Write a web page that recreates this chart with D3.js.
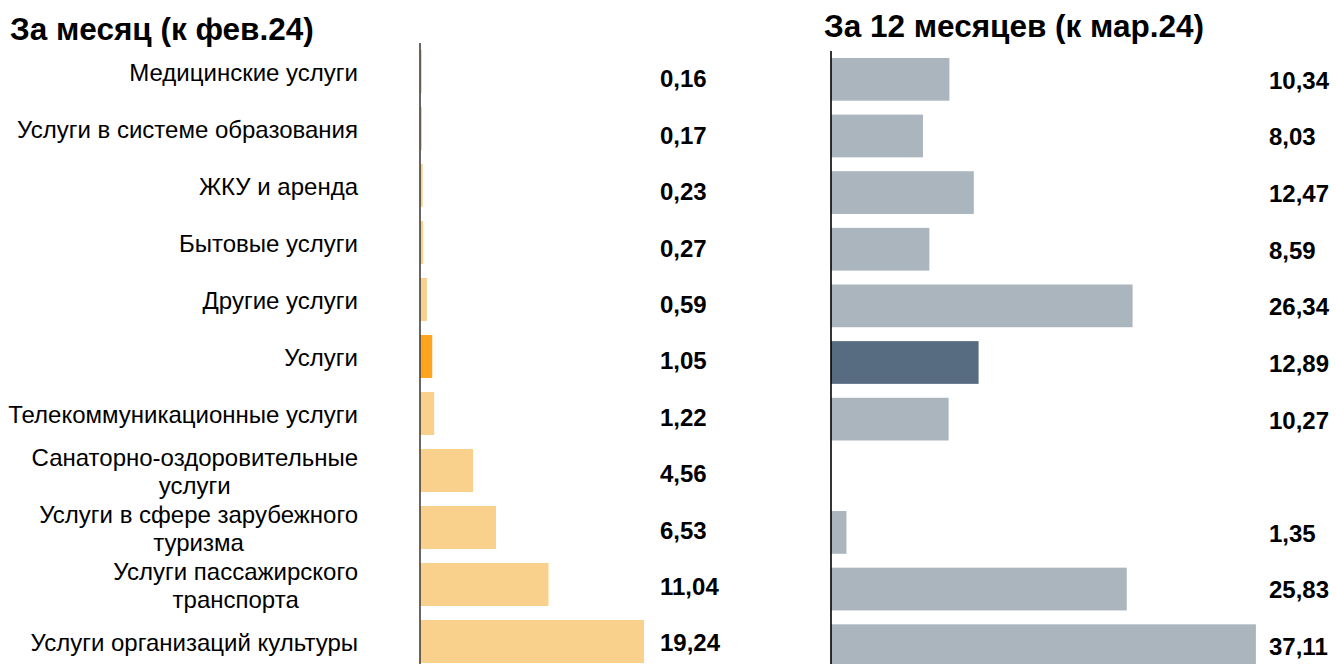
<!DOCTYPE html>
<html>
<head>
<meta charset="utf-8">
<script src="https://cdn.jsdelivr.net/npm/d3@7"></script>
<style>
  html, body { margin: 0; padding: 0; background: #fff; }
  svg { display: block; font-family: "Liberation Sans", Arial, sans-serif; }
</style>
</head>
<body>
<svg id="chart" width="1336" height="664"></svg>
<script>
// ---- data ----
const categories = [
  "Медицинские услуги",
  "Услуги в системе образования",
  "ЖКУ и аренда",
  "Бытовые услуги",
  "Другие услуги",
  "Услуги",
  "Телекоммуникационные услуги",
  "Санаторно-оздоровительные\nуслуги",
  "Услуги в сфере зарубежного\nтуризма",
  "Услуги пассажирского\nтранспорта",
  "Услуги организаций культуры"
];
const monthValues = [0.16, 0.17, 0.23, 0.27, 0.59, 1.05, 1.22, 4.56, 6.53, 11.04, 19.24];
const yearValues  = [10.34, 8.03, 12.47, 8.59, 26.34, 12.89, 10.27, null, 1.35, 25.83, 37.11];
const highlightCategory = "Услуги";
const titles = ["За месяц (к фев.24)", "За 12 месяцев (к мар.24)"];

// ---- drawing ----
const svg = d3.select("#chart");
const fmt = v => d3.format(".2f")(v).replace(".", ",");

const colors = {
  month: "#F9D08C", monthHi: "#FDA51C",
  year: "#ABB5BE", yearHi: "#586C81"
};

// Titles
svg.append("text").attr("x", 10).attr("y", 40)
  .attr("font-size", 31.5).attr("font-weight", "bold").attr("fill", "#000")
  .text(titles[0]);
svg.append("text").attr("x", 824).attr("y", 37)
  .attr("font-size", 31.5).attr("font-weight", "bold").attr("fill", "#000")
  .text(titles[1]);

// Left panel scales
const yL = d3.scaleBand().domain(categories).range([43, 670]).paddingInner(0.2456).paddingOuter(0.1228);
const xL = d3.scaleLinear().domain([0, 20]).range([420, 652.8]);
const yLabL = d3.scalePoint().domain(categories).range([79, 643]);

// Right panel scales
const yR = d3.scaleBand().domain(categories).range([51, 674]).paddingInner(0.2456).paddingOuter(0.1228);
const xR = d3.scaleLinear().domain([0, 40]).range([831, 1289]);

const monthData = categories.map((c, i) => ({ c, v: monthValues[i] }));
const yearData = categories.map((c, i) => ({ c, v: yearValues[i] })).filter(d => d.v != null);

// Left bars
svg.append("g").selectAll("rect").data(monthData).join("rect")
  .attr("x", xL(0)).attr("y", d => yL(d.c))
  .attr("width", d => xL(d.v) - xL(0)).attr("height", yL.bandwidth())
  .attr("fill", d => d.c === highlightCategory ? colors.monthHi : colors.month);

// Left axis line
svg.append("g").attr("transform", `translate(${xL(0)},0)`)
  .call(d3.axisLeft(yL).tickSize(0).tickFormat(""))
  .call(g => g.select(".domain").attr("stroke", "#404040").attr("stroke-width", 1.6)
    .attr("d", "M0,43V664"));

// Left values
svg.append("g").selectAll("text").data(monthData).join("text")
  .attr("x", 660).attr("y", d => yLabL(d.c)).attr("dy", "0.35em")
  .attr("font-size", 24).attr("font-weight", "bold").attr("fill", "#000")
  .text(d => fmt(d.v));

// Category labels (block right-aligned, lines centered)
const labelRight = 358;
const lineH = 28;
const catG = svg.append("g");
categories.forEach(c => {
  const lines = c.split("\n");
  const cy = yL(c) + yL.bandwidth() / 2 + 1;
  const t = catG.append("text").attr("font-size", 24).attr("fill", "#000");
  lines.forEach((ln, k) => {
    t.append("tspan").attr("y", cy + (k - (lines.length - 1) / 2) * lineH).attr("dy", "0.35em").text(ln);
  });
  const widths = [];
  t.selectAll("tspan").each(function () { widths.push(this.getComputedTextLength()); });
  const maxW = d3.max(widths);
  t.attr("text-anchor", "middle").selectAll("tspan").attr("x", labelRight - maxW / 2);
});

// Right bars
svg.append("g").selectAll("rect").data(yearData).join("rect")
  .attr("x", xR(0)).attr("y", d => yR(d.c))
  .attr("width", d => xR(d.v) - xR(0)).attr("height", yR.bandwidth())
  .attr("fill", d => d.c === highlightCategory ? colors.yearHi : colors.year);

// Right axis line
svg.append("g").attr("transform", `translate(${xR(0)},0)`)
  .call(d3.axisLeft(yR).tickSize(0).tickFormat(""))
  .call(g => g.select(".domain").attr("stroke", "#000").attr("stroke-width", 1.6)
    .attr("d", "M0,51V664"));

// Right values
svg.append("g").selectAll("text").data(yearData).join("text")
  .attr("x", 1269).attr("y", d => yR(d.c) + yR.bandwidth() / 2 + 1).attr("dy", "0.35em")
  .attr("font-size", 24).attr("font-weight", "bold").attr("fill", "#000")
  .text(d => fmt(d.v));
</script>
</body>
</html>
